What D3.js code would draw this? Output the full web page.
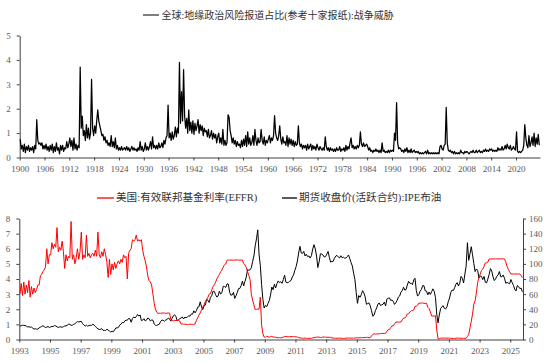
<!DOCTYPE html>
<html>
<head>
<meta charset="utf-8">
<script src="https://cdn.jsdelivr.net/npm/d3@7"></script>
<style>
  body { margin: 0; background: #fff; }
  svg { display: block; }
  .axis text { font-family: "Liberation Serif", serif; font-size: 9px; fill: #595959; }
  .axis path, .axis line { stroke: #404040; }
  .legend { font-family: "Liberation Serif", "Noto Sans CJK SC", serif; font-size: 10px; fill: #333; }
  .legend.lower { font-size: 10.6px; }
</style>
</head>
<body>
<svg width="550" height="363"></svg>
<script>
// ---- top chart: geopolitical risk (war threats), quarterly reads, 1900Q1 - 2025Q3
var gprStart = 1900;
var gprThreat = [
  0.75,0.35,0.5,0.25, 0.55,0.2,0.45,0.3, 0.5,0.25,0.4,0.3, 0.45,0.2,0.5,0.35,      // 1900-03
  1.55,0.7,0.55,0.6, 0.5,0.6,0.35,0.5, 0.35,0.55,0.3,0.45, 0.25,0.5,0.3,0.55,       // 1904-07
  0.2,0.45,0.25,0.6, 0.3,0.4,0.15,0.5, 0.3,0.5,0.25,0.4, 0.35,0.65,0.4,0.55,        // 1908-11
  0.8,0.45,0.7,0.3, 0.8,0.35,0.55,0.3, 0.5,0.4,3.7,1.2, 1.7,0.9,1.1,0.7,           // 1912-15
  1.35,0.8,1.2,0.75, 1.0,3.2,1.2,0.9, 1.3,1.0,1.5,1.95, 1.5,1.3,1.1,0.9,            // 1916-19
  0.95,0.7,0.85,0.6, 0.7,0.5,0.6,0.45, 0.9,0.45,0.65,0.4, 0.8,0.35,0.5,0.3,         // 1920-23
  0.4,0.3,0.45,0.3, 0.35,0.4,0.3,0.45, 0.3,0.4,0.25,0.35, 0.45,0.3,0.4,0.3,         // 1924-27
  0.35,0.25,0.4,0.3, 0.65,0.3,0.45,0.25, 0.35,0.6,0.3,0.45, 0.3,0.45,0.65,0.35,     // 1928-31
  0.85,0.4,0.5,0.35, 0.5,0.35,0.6,0.4, 0.45,0.6,0.4,0.7, 0.55,0.8,0.9,2.15,         // 1932-35
  0.8,1.0,0.7,1.05, 0.75,0.9,1.25,0.85, 1.2,1.0,3.9,1.4, 2.7,1.5,3.6,1.7,           // 1936-39
  1.2,1.6,1.0,1.95, 1.1,1.45,1.0,1.5, 0.95,1.4,1.1,1.3, 1.55,1.0,1.35,1.1,          // 1940-43
  1.3,0.9,1.2,1.05, 1.1,0.85,1.15,0.8, 0.9,1.1,0.75,1.0, 0.8,0.95,0.6,0.85,         // 1944-47
  1.0,0.6,0.8,0.55, 1.15,0.5,0.7,0.5, 0.6,1.75,1.65,1.1, 0.9,0.6,0.8,0.55,          // 1948-51
  0.7,0.45,0.65,0.5, 0.55,0.4,0.7,0.45, 0.75,0.5,0.9,0.45, 1.05,0.55,0.8,0.5,       // 1952-55
  0.6,0.9,0.5,1.15, 0.7,0.5,0.8,0.6, 0.65,1.15,0.7,0.55, 0.85,0.5,0.7,0.6,          // 1956-59
  0.75,0.9,0.6,0.8, 0.7,0.9,1.72,1.0, 0.8,0.7,0.9,1.3, 0.75,0.55,0.85,0.6,          // 1960-63
  0.65,0.5,0.9,0.45, 0.8,0.55,0.75,0.5, 0.7,0.45,0.65,0.5, 0.55,1.3,0.6,0.45,       // 1964-67
  0.55,0.35,0.5,0.4, 0.5,0.3,0.55,0.35, 0.45,0.55,0.3,0.5, 0.35,0.45,0.3,0.55,      // 1968-71
  0.4,0.3,0.45,0.35, 0.3,0.4,0.3,0.85, 0.45,0.3,0.4,0.25, 0.4,0.3,0.35,0.25,        // 1972-75
  0.35,0.25,0.4,0.3, 0.3,0.45,0.25,0.35, 0.3,0.4,0.25,0.5, 0.3,0.45,0.35,0.6,       // 1976-79
  0.8,0.4,0.5,0.35, 0.45,0.35,0.5,0.4, 0.5,1.05,0.55,0.45, 0.6,0.45,0.5,0.55,       // 1980-83
  0.45,0.3,0.4,0.25, 0.3,0.2,0.3,0.25, 0.35,0.25,0.3,0.2, 0.3,0.2,0.6,0.25,         // 1984-87
  0.3,0.2,0.25,0.2, 0.3,0.2,0.3,0.25, 0.3,0.25,1.0,0.7, 2.25,0.6,0.35,0.4,          // 1988-91
  0.35,0.25,0.3,0.2, 0.35,0.25,0.4,0.2, 0.3,0.2,0.35,0.2, 0.25,0.3,0.2,0.25,        // 1992-95
  0.2,0.25,0.15,0.2, 0.15,0.2,0.15,0.2, 0.25,0.15,0.3,0.15, 0.2,0.15,0.2,0.15,      // 1996-99
  0.2,0.15,0.2,0.15, 0.2,0.15,0.45,0.5, 0.35,0.3,0.5,0.55, 2.05,0.6,0.3,0.25,       // 2000-03
  0.3,0.2,0.25,0.15, 0.25,0.15,0.2,0.15, 0.2,0.15,0.3,0.2, 0.2,0.15,0.25,0.2,       // 2004-07
  0.25,0.2,0.15,0.2, 0.25,0.2,0.3,0.2, 0.2,0.3,0.2,0.25, 0.3,0.2,0.25,0.2,          // 2008-11
  0.3,0.25,0.35,0.25, 0.3,0.25,0.35,0.3, 0.35,0.25,0.3,0.25, 0.3,0.25,0.4,0.3,      // 2012-15
  0.35,0.3,0.45,0.3, 0.35,0.5,0.35,0.55, 0.4,0.35,0.5,0.3, 0.35,0.45,0.35,0.3,      // 2016-19
  1.05,0.25,0.2,0.25, 0.2,0.25,0.3,0.5, 1.35,0.8,0.5,0.4, 0.9,0.45,0.6,0.85,        // 2020-23
  0.5,1.0,0.45,0.8, 0.55,0.95,0.5                                                   // 2024-25
];
var gprTicks = d3.range(1900, 2021, 6);
var gprTitle = "全球:地缘政治风险报道占比(参考十家报纸):战争威胁";

// ---- bottom chart: monthly reads, Jan 1993 - Oct 2025
var monthStart = 1993;
var effr = [
  3.0,3.7,2.9,3.8,3.0,3.6,3.1,3.9,2.8,3.5,3.0,3.4,
  3.1,3.3,3.6,3.6,4.2,4.3,4.5,4.6,4.8,6.0,5.0,5.6,
  5.6,6.4,6.0,6.3,6.1,7.4,5.8,6.1,5.9,6.5,5.8,4.7,
  5.6,5.2,5.5,5.4,7.8,5.3,5.6,5.0,5.4,6.0,5.3,5.8,
  7.1,5.3,5.6,5.4,6.9,5.5,5.7,5.4,5.6,5.7,5.5,5.9,
  5.5,7.1,5.6,5.4,5.8,5.5,6.0,5.6,5.1,4.1,5.3,4.3,
  5.0,4.6,5.1,4.7,5.0,5.2,5.0,5.3,5.1,5.6,5.4,5.5,
  4.0,5.7,5.9,6.0,6.6,6.5,6.6,6.9,6.5,6.6,6.5,6.6,
  5.9,5.5,5.2,4.8,4.2,3.9,3.8,3.6,3.0,2.4,2.0,1.8,
  1.73,1.74,1.73,1.75,1.75,1.75,1.73,1.74,1.75,1.75,1.34,1.24,
  1.24,1.26,1.25,1.26,1.26,1.22,1.01,1.03,1.01,1.01,1.0,0.98,
  1.0,1.01,1.0,1.0,1.0,1.03,1.26,1.43,1.61,1.76,1.93,2.16,
  2.28,2.5,2.63,2.79,3.0,3.04,3.26,3.5,3.62,3.78,4.0,4.16,
  4.29,4.49,4.59,4.79,4.94,4.99,5.24,5.25,5.25,5.25,5.25,5.24,
  5.25,5.26,5.26,5.25,5.25,5.25,5.26,5.02,4.94,4.76,4.49,4.24,
  3.94,2.98,2.61,2.28,1.98,2.0,2.01,2.0,2.8,0.97,0.39,0.16,
  0.15,0.22,0.18,0.15,0.18,0.21,0.16,0.16,0.15,0.12,0.12,0.12,
  0.11,0.13,0.16,0.2,0.2,0.18,0.18,0.19,0.19,0.19,0.19,0.18,
  0.17,0.16,0.14,0.1,0.09,0.09,0.07,0.1,0.08,0.07,0.08,0.07,
  0.08,0.1,0.13,0.14,0.16,0.16,0.16,0.13,0.14,0.16,0.16,0.16,
  0.14,0.15,0.14,0.15,0.11,0.09,0.09,0.08,0.08,0.09,0.08,0.09,
  0.07,0.07,0.08,0.09,0.09,0.1,0.09,0.09,0.09,0.09,0.09,0.12,
  0.11,0.11,0.11,0.12,0.12,0.13,0.13,0.14,0.14,0.12,0.12,0.24,
  0.34,0.38,0.36,0.37,0.37,0.38,0.39,0.4,0.4,0.4,0.41,0.54,
  0.65,0.66,0.79,0.9,0.91,1.04,1.15,1.16,1.15,1.15,1.16,1.3,
  1.41,1.42,1.51,1.69,1.7,1.82,1.91,1.91,1.95,2.19,2.2,2.27,
  2.4,2.4,2.41,2.42,2.39,2.38,2.4,2.13,2.04,1.83,1.55,1.55,
  1.55,1.58,0.65,0.05,0.05,0.08,0.09,0.1,0.09,0.09,0.09,0.09,
  0.09,0.08,0.07,0.07,0.06,0.08,0.1,0.09,0.08,0.08,0.08,0.08,
  0.08,0.08,0.2,0.33,0.77,1.21,1.68,2.33,2.56,3.08,3.78,4.1,
  4.33,4.57,4.65,4.83,5.06,5.08,5.12,5.33,5.33,5.33,5.33,5.33,
  5.33,5.33,5.33,5.33,5.33,5.33,5.33,5.33,5.13,4.83,4.64,4.48,
  4.33,4.33,4.33,4.33,4.33,4.33,4.33,4.33,4.22,4.09
];
var brent = [
  17.5,18.5,18.8,18.6,18.5,17.6,16.6,16.9,16.2,16.5,15.0,13.7,
  14.2,13.7,13.6,15.4,16.3,17.2,18.3,17.0,15.9,16.4,17.2,15.8,
  16.6,17.2,17.1,18.5,17.9,16.8,16.0,16.5,16.8,16.1,17.0,17.9,
  18.1,18.6,20.5,19.9,18.8,19.0,19.9,20.8,22.4,23.7,23.0,23.8,
  24.0,20.9,19.2,17.6,19.1,17.6,18.6,18.8,18.6,20.2,19.1,17.3,
  15.4,14.1,13.2,13.6,14.3,12.1,12.1,12.0,13.4,12.7,11.0,9.8,
  11.1,10.3,12.5,15.3,15.3,15.9,19.0,20.2,22.5,22.0,24.6,25.5,
  25.5,27.8,27.5,22.8,27.6,29.8,28.6,30.2,33.1,30.9,32.5,25.0,
  25.6,27.5,24.5,25.7,28.4,27.7,24.5,25.7,25.6,20.5,18.9,18.6,
  19.5,20.2,23.7,25.7,25.4,24.1,25.7,26.3,28.4,27.5,24.3,28.1,
  31.3,32.7,30.3,25.0,25.8,27.6,28.4,29.8,27.1,29.6,28.8,29.8,
  31.2,30.9,33.8,33.4,37.9,35.2,38.2,42.7,43.2,49.8,43.1,39.6,
  44.5,45.5,53.1,51.9,49.0,55.6,57.9,63.9,63.5,59.4,56.2,57.6,
  63.9,60.0,62.3,70.4,70.0,68.9,73.7,73.2,62.4,58.6,58.9,62.3,
  54.3,57.8,62.1,67.4,67.5,71.3,77.2,70.8,77.0,82.5,92.5,91.5,
  92.2,94.9,103.3,110.4,123.9,133.1,145.0,113.2,98.1,72.8,53.2,41.6,
  44.9,43.4,47.7,51.4,58.8,69.4,65.8,73.1,68.2,73.9,77.5,75.2,
  76.4,74.3,79.3,84.9,75.9,75.0,75.6,77.0,78.0,82.7,85.3,91.5,
  96.3,103.8,114.4,123.2,114.5,113.8,116.5,110.4,112.8,109.6,110.5,107.7,
  111.0,119.6,125.4,119.8,110.3,95.2,102.6,113.4,113.0,111.7,109.1,109.5,
  112.9,116.5,108.5,102.3,103.3,103.3,107.4,110.3,111.2,109.1,107.8,110.8,
  108.1,108.9,107.5,107.8,109.5,111.8,106.8,101.6,97.1,87.4,79.4,62.3,
  47.8,58.1,55.9,59.5,64.6,61.7,56.5,46.5,47.6,48.4,44.3,38.0,
  30.7,32.2,38.2,41.6,46.7,48.3,44.9,45.8,46.6,49.5,44.4,53.3,
  54.6,55.0,51.6,52.3,50.3,46.4,48.5,51.7,56.2,57.5,62.7,64.4,
  69.1,65.3,66.0,72.1,76.9,74.4,74.3,72.5,78.9,81.0,64.8,57.4,
  59.4,64.0,66.1,71.2,71.1,64.2,63.9,59.0,62.8,59.6,63.2,67.0,
  63.7,55.5,33.7,22.0,32.4,40.8,43.2,44.7,41.0,40.5,43.2,50.0,
  54.8,62.3,65.4,64.8,68.5,73.2,75.2,70.8,74.5,83.5,80.9,74.8,
  86.5,97.1,128.0,104.6,113.3,122.7,111.9,100.5,89.8,93.3,91.4,81.3,
  83.9,83.5,79.2,83.4,75.7,75.0,80.1,86.2,93.7,90.6,82.9,77.9,
  80.1,83.5,85.4,89.9,83.0,83.0,85.3,80.9,74.3,75.6,74.4,73.8,
  79.3,75.2,71.5,66.5,64.2,71.4,70.0,67.3,67.9,63.0
];
var bottomTicks = d3.range(1993, 2026, 2);
var effrName = "美国:有效联邦基金利率(EFFR)";
var brentName = "期货收盘价(活跃合约):IPE布油";

var svg = d3.select("svg");

// ================= top chart =================
var x1 = d3.scaleLinear().domain([1900, 2025.8]).range([19.7, 540]);
var y1 = d3.scaleLinear().domain([0, 5]).range([157.5, 35.5]);

var gprPts = gprThreat.map(function(v, i) { return [gprStart + i / 4 + 0.125, v]; });

svg.append("g").attr("class", "axis")
   .attr("transform", "translate(0," + y1(0) + ")")
   .call(d3.axisBottom(x1).tickValues(gprTicks).tickFormat(d3.format("d"))
          .tickSize(3).tickSizeOuter(0).tickPadding(5));
svg.append("g").attr("class", "axis")
   .attr("transform", "translate(" + x1.range()[0] + ",0)")
   .call(d3.axisLeft(y1).ticks(5).tickSize(3).tickSizeOuter(0).tickPadding(6));

svg.append("path")
   .datum(gprPts)
   .attr("fill", "none")
   .attr("stroke", "#000")
   .attr("stroke-width", 1.25)
   .attr("stroke-linejoin", "round")
   .attr("d", d3.line().x(function(d) { return x1(d[0]); }).y(function(d) { return y1(d[1]); }));

// title / legend
svg.append("line").attr("x1", 143).attr("x2", 159).attr("y1", 15).attr("y2", 15)
   .attr("stroke", "#000").attr("stroke-width", 1);
svg.append("text").attr("class", "legend").attr("x", 161.5).attr("y", 15).attr("dy", "0.35em")
   .text(gprTitle);

// ================= bottom chart =================
var x2 = d3.scaleLinear().domain([1993, 2025.83]).range([19.3, 523]);
var yL = d3.scaleLinear().domain([0, 8]).range([339.5, 218.5]);
var yR = d3.scaleLinear().domain([0, 160]).range([339.5, 218.5]);

var monthX = function(i) { return monthStart + i / 12 + 1 / 24; };

svg.append("g").attr("class", "axis")
   .attr("transform", "translate(0," + yL(0) + ")")
   .call(d3.axisBottom(x2).tickValues(bottomTicks).tickFormat(d3.format("d"))
          .tickSize(3).tickSizeOuter(0).tickPadding(5));
svg.append("g").attr("class", "axis")
   .attr("transform", "translate(" + x2.range()[0] + ",0)")
   .call(d3.axisLeft(yL).ticks(8).tickSize(3).tickSizeOuter(0).tickPadding(6));
svg.append("g").attr("class", "axis")
   .attr("transform", "translate(" + x2.range()[1] + ",0)")
   .call(d3.axisRight(yR).tickValues(d3.range(0, 161, 20)).tickSize(3).tickSizeOuter(0).tickPadding(3));

svg.append("path")
   .datum(brent)
   .attr("fill", "none")
   .attr("stroke", "#000")
   .attr("stroke-width", 1)
   .attr("d", d3.line().x(function(d, i) { return x2(monthX(i)); }).y(function(d) { return yR(d); }));

svg.append("path")
   .datum(effr)
   .attr("fill", "none")
   .attr("stroke", "#ff0000")
   .attr("stroke-width", 1)
   .attr("d", d3.line().x(function(d, i) { return x2(monthX(i)); }).y(function(d) { return yL(d); }));

// legend
svg.append("line").attr("x1", 97).attr("x2", 114).attr("y1", 198).attr("y2", 198)
   .attr("stroke", "#ff0000").attr("stroke-width", 1.3);
svg.append("text").attr("class", "legend lower").attr("x", 116).attr("y", 197.5).attr("dy", "0.35em")
   .text(effrName);
svg.append("line").attr("x1", 282).attr("x2", 297).attr("y1", 198).attr("y2", 198)
   .attr("stroke", "#000").attr("stroke-width", 1.3);
svg.append("text").attr("class", "legend lower").attr("x", 299).attr("y", 197.5).attr("dy", "0.35em")
   .text(brentName);
</script>
</body>
</html>
